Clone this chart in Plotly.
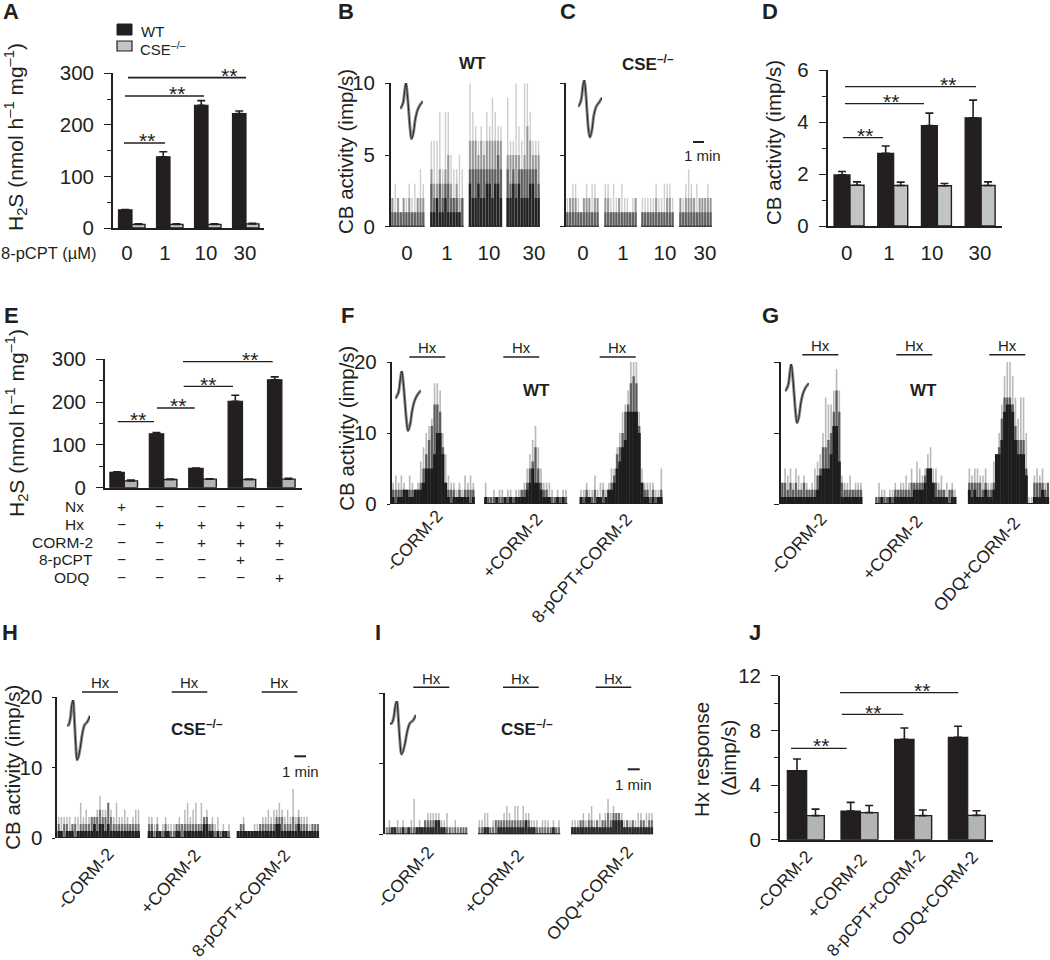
import plotly.graph_objects as go

W = 1050
H = 960
INK = "#231f20"
GREY = "#c2c4c6"
GREY_DARK = "#b2b4b6"
FONT = "Liberation Sans"

# Bar panels
A_WT = [35, 138, 238, 222]
A_WT_TOP = [36, 148, 247, 227]
A_CSE = [7, 7, 7, 8]
A_CSE_TOP = [8, 8, 8, 9]
DOSES = ["0", "1", "10", "30"]

D_WT = [1.97, 2.8, 3.87, 4.17]
D_WT_TOP = [2.1, 3.08, 4.35, 4.85]
D_CSE = [1.57, 1.56, 1.55, 1.56]
D_CSE_TOP = [1.7, 1.69, 1.64, 1.7]

E_WT = [36, 126, 45, 202, 252]
E_WT_TOP = [37, 129, 46, 216, 259]
E_CSE = [16, 19, 20, 19, 20]
E_CSE_TOP = [18, 20, 21, 20, 22]
E_NX = ["+", "−", "−", "−", "−"]
E_HX = ["−", "+", "+", "+", "+"]
E_CORM = ["−", "−", "+", "+", "+"]
E_PCPT = ["−", "−", "−", "+", "−"]
E_ODQ = ["−", "−", "−", "−", "+"]

J_WT = [5.05, 2.1, 7.34, 7.49]
J_WT_TOP = [5.9, 2.73, 8.17, 8.3]
J_CSE = [1.76, 1.98, 1.76, 1.78]
J_CSE_TOP = [2.24, 2.5, 2.17, 2.12]

# Rate histograms, one list per recording segment
B_PEAK = [[2, 3, 2, 1, 2, 2, 3, 2, 3, 2, 4, 3], [6, 6, 6, 8, 4, 8, 8, 5, 4, 4, 5, 4],
          [10, 8, 7, 6, 7, 6, 8, 7, 9, 8, 7, 7], [9, 6, 6, 10, 7, 6, 10, 10, 8, 6, 6, 6]]
B_MID = [[2, 1, 2, 1, 2, 1, 2, 1, 1, 2, 2, 2], [4, 3, 3, 4, 3, 4, 5, 3, 2, 3, 2, 2],
         [6, 6, 6, 5, 6, 5, 6, 6, 6, 6, 6, 6], [5, 5, 5, 5, 5, 4, 5, 7, 6, 5, 5, 5]]
B_CORE = [[1, 1, 1, 1, 1, 1, 1, 1, 1, 1, 1, 1], [3, 2, 2, 3, 2, 3, 3, 2, 2, 2, 1, 2],
          [4, 4, 4, 4, 4, 4, 4, 4, 4, 4, 5, 4], [4, 3, 4, 3, 4, 4, 4, 4, 4, 4, 4, 3]]
B_DEEP = [[], [1, 1, 2, 1, 1, 2, 1, 1, 1, 1, 1, 0],
          [3, 2, 2, 3, 2, 2, 3, 3, 2, 3, 3, 2], [2, 2, 3, 2, 3, 2, 2, 2, 3, 3, 2, 2]]

C_PEAK = [[2, 2, 3, 3, 2, 1, 2, 3, 2, 3, 3, 2], [3, 3, 2, 3, 2, 2, 3, 2, 2, 1, 2, 2],
          [2, 2, 2, 2, 2, 3, 2, 2, 3, 3, 3, 2], [2, 2, 3, 4, 3, 2, 3, 2, 2, 2, 3, 2]]
C_MID = [[1, 2, 2, 2, 1, 1, 2, 2, 2, 1, 2, 2], [2, 2, 1, 1, 1, 2, 1, 1, 1, 1, 1, 2],
         [1, 1, 1, 1, 1, 2, 1, 1, 1, 2, 2, 1], [2, 1, 2, 2, 2, 2, 1, 2, 2, 2, 2, 2]]
C_CORE = [[1, 1, 1, 1, 1, 1, 1, 1, 1, 1, 1, 1], [1, 1, 1, 1, 1, 1, 1, 1, 1, 1, 1, 1],
          [1, 1, 1, 1, 1, 1, 1, 1, 1, 1, 1, 1], [1, 1, 1, 1, 1, 1, 1, 1, 1, 1, 1, 1]]

F_PEAK = [[3, 4, 3, 4, 3, 2, 4, 3, 2, 3, 6, 8, 10, 11, 12, 17, 17, 16, 10, 7, 4, 3, 3, 2, 3, 2, 4, 3, 4, 3],
          [3, 1, 1, 2, 1, 2, 2, 1, 2, 2, 1, 2, 2, 2, 3, 5, 7, 9, 11, 8, 5, 3, 3, 3, 2, 1, 2, 1, 2, 2],
          [2, 2, 3, 2, 2, 4, 2, 3, 3, 2, 3, 5, 5, 8, 10, 13, 14, 16, 20, 20, 20, 13, 5, 3, 3, 3, 3, 2, 2, 5]]
F_MID = [[2, 2, 2, 2, 2, 2, 2, 2, 2, 2, 3, 5, 7, 9, 11, 14, 14, 13, 8, 3, 2, 2, 2, 1, 2, 1, 2, 2, 2, 2],
         [1, 1, 1, 1, 1, 1, 1, 1, 1, 1, 1, 1, 1, 2, 2, 3, 5, 6, 8, 5, 3, 2, 2, 1, 1, 1, 1, 1, 1, 1],
         [1, 1, 2, 1, 1, 2, 1, 1, 2, 1, 2, 3, 4, 7, 8, 10, 13, 14, 17, 18, 17, 11, 3, 2, 2, 1, 2, 1, 1, 2]]
F_DEEP = [[1, 0, 1, 1, 2, 2, 1, 1, 2, 2, 2, 3, 5, 5, 5, 7, 10, 10, 7, 3, 1, 0, 1, 1, 1, 1, 1, 1, 0, 1],
          [1, 0, 0, 0, 1, 0, 0, 1, 0, 1, 0, 1, 1, 1, 1, 2, 3, 5, 3, 3, 2, 1, 1, 1, 0, 0, 1, 0, 1, 0],
          [1, 0, 1, 1, 0, 0, 1, 1, 0, 1, 2, 2, 3, 5, 6, 8, 9, 13, 13, 13, 13, 10, 3, 1, 1, 0, 1, 0, 1, 1]]

G_PEAK = [[3, 5, 4, 5, 3, 5, 4, 3, 4, 3, 2, 3, 5, 6, 7, 10, 15, 14, 14, 16, 19, 16, 4, 3, 3, 4, 2, 3, 3, 3],
          [1, 3, 2, 2, 1, 2, 2, 3, 2, 3, 3, 4, 3, 5, 3, 6, 5, 4, 5, 7, 8, 5, 5, 3, 4, 2, 3, 2, 3, 2],
          [5, 4, 5, 5, 4, 4, 5, 3, 3, 6, 7, 10, 14, 18, 20, 20, 18, 15, 12, 15, 15, 10, 1, 1, 4, 5, 4, 5, 3, 3]]
G_MID = [[3, 3, 2, 3, 2, 3, 2, 2, 3, 2, 2, 2, 2, 4, 5, 8, 8, 9, 10, 13, 16, 13, 3, 2, 2, 2, 2, 2, 2, 2],
         [1, 1, 1, 1, 1, 1, 1, 2, 2, 2, 2, 2, 2, 3, 3, 3, 3, 3, 4, 5, 5, 3, 3, 2, 2, 2, 1, 2, 2, 1],
         [3, 3, 3, 3, 3, 2, 3, 2, 2, 3, 7, 8, 12, 15, 15, 15, 14, 11, 9, 9, 9, 5, 0, 0, 3, 3, 3, 3, 2, 3]]
G_DEEP = [[1, 1, 1, 1, 1, 1, 1, 1, 1, 1, 1, 1, 1, 2, 4, 5, 5, 5, 7, 11, 11, 6, 1, 1, 1, 1, 1, 1, 1, 1],
          [0, 0, 1, 0, 0, 1, 0, 1, 1, 1, 1, 1, 1, 1, 2, 2, 2, 2, 3, 5, 5, 3, 1, 1, 1, 1, 1, 0, 1, 1],
          [2, 1, 2, 1, 1, 1, 2, 1, 1, 2, 7, 7, 9, 13, 14, 14, 13, 9, 7, 7, 7, 4, 0, 0, 1, 1, 1, 2, 1, 1]]

H_PEAK = [[3, 3, 3, 3, 3, 2, 3, 3, 5, 3, 4, 3, 3, 3, 4, 6, 4, 4, 5, 4, 3, 5, 3, 3, 4, 3, 2, 3, 4, 4],
          [3, 3, 2, 3, 1, 2, 3, 2, 2, 2, 2, 3, 2, 4, 5, 3, 4, 5, 2, 5, 3, 4, 2, 3, 2, 3, 1, 2, 1, 2],
          [1, 2, 3, 1, 1, 1, 2, 2, 2, 3, 3, 4, 3, 4, 4, 5, 4, 3, 4, 3, 7, 3, 4, 3, 3, 3, 2, 2, 2, 2]]
H_MID = [[2, 1, 2, 2, 1, 2, 2, 1, 2, 2, 2, 2, 3, 3, 3, 4, 3, 3, 5, 3, 2, 2, 2, 2, 2, 2, 2, 2, 2, 2],
         [2, 2, 1, 2, 1, 1, 2, 1, 1, 1, 2, 2, 2, 2, 2, 2, 2, 2, 2, 2, 3, 3, 2, 2, 1, 1, 1, 1, 1, 1],
         [1, 2, 2, 1, 1, 1, 1, 1, 2, 2, 2, 2, 2, 2, 3, 3, 3, 2, 2, 2, 3, 2, 3, 2, 2, 2, 1, 2, 2, 2]]
H_DEEP = [[1, 1, 0, 1, 1, 1, 0, 1, 1, 1, 1, 1, 1, 2, 1, 2, 2, 1, 2, 1, 1, 1, 1, 1, 1, 1, 1, 1, 1, 1],
          [1, 1, 0, 1, 1, 0, 1, 1, 0, 0, 1, 1, 0, 1, 1, 1, 1, 1, 1, 1, 2, 2, 1, 1, 0, 1, 0, 1, 1, 0],
          [1, 1, 1, 1, 1, 1, 1, 1, 1, 1, 1, 1, 1, 1, 2, 2, 1, 1, 1, 1, 1, 1, 2, 1, 1, 1, 1, 1, 1, 1]]

I_PEAK = [[0, 2, 0, 1, 2, 1, 2, 0, 1, 2, 5, 1, 2, 1, 2, 3, 3, 3, 3, 3, 2, 2, 3, 1, 0, 2, 0, 1, 1, 1],
          [2, 2, 3, 3, 1, 2, 2, 2, 2, 3, 4, 3, 2, 4, 4, 2, 4, 3, 3, 2, 2, 2, 1, 2, 2, 2, 1, 2, 1, 2],
          [2, 2, 2, 2, 3, 2, 3, 4, 2, 2, 3, 2, 3, 5, 3, 4, 3, 3, 3, 2, 2, 2, 2, 2, 3, 3, 2, 3, 3, 3]]
I_MID = [[1, 1, 1, 1, 1, 1, 1, 1, 1, 1, 1, 1, 1, 1, 2, 2, 2, 2, 2, 2, 1, 1, 1, 1, 1, 1, 1, 1, 1, 1],
         [1, 1, 1, 1, 1, 1, 2, 2, 2, 2, 2, 2, 2, 2, 2, 2, 2, 2, 2, 1, 1, 1, 1, 1, 1, 1, 1, 1, 1, 1],
         [1, 1, 1, 2, 2, 1, 2, 2, 1, 2, 1, 2, 2, 3, 2, 3, 3, 3, 2, 1, 2, 1, 2, 1, 1, 2, 2, 1, 2, 2]]
I_DEEP = [[0, 0, 1, 1, 0, 0, 1, 0, 1, 0, 0, 1, 1, 1, 1, 1, 1, 1, 2, 2, 1, 1, 0, 0, 0, 0, 0, 0, 0, 0],
          [0, 0, 1, 1, 0, 0, 0, 1, 1, 1, 1, 1, 1, 1, 1, 1, 1, 2, 1, 1, 1, 0, 0, 0, 0, 0, 0, 1, 0, 0],
          [1, 1, 1, 1, 1, 1, 1, 1, 1, 1, 1, 1, 1, 1, 1, 2, 2, 2, 2, 1, 1, 1, 1, 1, 1, 1, 1, 1, 1, 1]]

# Spike waveform insets
WAVE_T = [0, .06, .14, .2, .26, .32, .38, .44, .5, .58, .66, .76, .88, 1]
WAVE_WT = [.55, .58, .66, .85, 1, .8, .5, .2, .02, .12, .35, .52, .62, .68]
WAVE_CSE = [.55, .58, .68, .88, 1, .8, .45, .15, .03, .15, .4, .55, .62, .7]
WAVE_H = [.6, .6, .7, .9, 1, .7, .3, .05, .1, .25, .45, .6, .65, .75]

fig = go.Figure()
layout = {}
annotations = []
shapes = []
axis_count = 0


def new_axes(left, right, top, bottom, xrange, yrange, xopts=None, yopts=None):
    global axis_count
    axis_count += 1
    tag = "" if axis_count == 1 else str(axis_count)
    xaxis = dict(domain=[left / W, right / W], range=xrange, anchor="y" + tag, automargin=False,
                 showgrid=False, zeroline=False, showticklabels=False, ticks="")
    yaxis = dict(domain=[1 - bottom / H, 1 - top / H], range=yrange, anchor="x" + tag, automargin=False,
                 showgrid=False, zeroline=False, showticklabels=False, ticks="")
    xaxis.update(xopts or {})
    yaxis.update(yopts or {})
    layout["xaxis" + tag] = xaxis
    layout["yaxis" + tag] = yaxis
    return "x" + tag, "y" + tag


def y_style(major, minor=None, ticklen=7, labels=True, width=1.8):
    opts = dict(showline=True, linecolor=INK, linewidth=width, ticks="outside", ticklen=ticklen,
                tickwidth=1.4, tickcolor=INK, dtick=major, tick0=0, showticklabels=labels,
                tickfont=dict(family=FONT, size=20.5, color=INK), ticklabelstandoff=6)
    if minor:
        opts["minor"] = dict(dtick=minor, tick0=0, ticks="outside", ticklen=4, tickwidth=1.4, tickcolor=INK)
    return opts


def text(x, y, s, size=15, anchor="center", angle=0):
    annotations.append(dict(xref="paper", yref="paper", x=x / W, y=1 - y / H, text=s, showarrow=False,
                            xanchor=anchor, yanchor="middle", textangle=angle,
                            font=dict(family=FONT, size=size, color=INK)))


def hline(x0, x1, y, width=1.3):
    shapes.append(dict(type="line", xref="paper", yref="paper", x0=x0 / W, x1=x1 / W,
                       y0=1 - y / H, y1=1 - y / H, line=dict(color=INK, width=width)))


def sig(x0, x1, y, star_x, star_y, width=1.3):
    hline(x0, x1, y, width)
    text(star_x, star_y + 4, "**", size=21)


def bar_panel(left, right, top, bottom, ymax, center, step, w_wt, w_cse, wt, wt_top, cse, cse_top,
              major, minor, tick_px=None, tick_labels=None, tick_gap=6, cse_color=GREY):
    xopts = dict(showline=True, linecolor=INK, linewidth=1.8)
    if tick_px:
        xopts.update(tickmode="array", tickvals=[(p - center) / step for p in tick_px], ticktext=tick_labels,
                     showticklabels=True, tickfont=dict(family=FONT, size=20.5, color=INK),
                     ticklabelstandoff=tick_gap)
    xa, ya = new_axes(left, right, top, bottom, [(left - center) / step, (right - center) / step], [0, ymax],
                      xopts, y_style(major, minor))
    positions = list(range(len(wt)))
    fig.add_trace(go.Bar(x=positions, y=wt, xaxis=xa, yaxis=ya, offset=-w_wt / step, width=w_wt / step,
                         marker=dict(color=INK, line=dict(color=INK, width=1.2)), showlegend=False,
                         error_y=dict(type="data", symmetric=False, array=[t - v for t, v in zip(wt_top, wt)],
                                      arrayminus=[0] * len(wt), color=INK, thickness=1.6, width=4)))
    fig.add_trace(go.Bar(x=positions, y=cse, xaxis=xa, yaxis=ya, offset=0, width=w_cse / step,
                         marker=dict(color=cse_color, line=dict(color=INK, width=1.4)), showlegend=False,
                         error_y=dict(type="data", symmetric=False, array=[t - v for t, v in zip(cse_top, cse)],
                                      arrayminus=[0] * len(cse), color=INK, thickness=1.6, width=4)))


def hist_panel(left, right, top, bottom, ymax, major, seg_left, layers, ticklen=4, labels=True,
               tick_px=None, tick_labels=None):
    # x axis counts bins, each segment starts at its own offset
    n_bins = len(layers[0][0][0])
    binw = (right - seg_left[-1]) / n_bins
    xopts = {}
    if tick_px:
        xopts = dict(tickmode="array", tickvals=[(p - left) / binw for p in tick_px], ticktext=tick_labels,
                     showticklabels=True, tickfont=dict(family=FONT, size=20.5, color=INK),
                     ticklabelstandoff=12)
    xa, ya = new_axes(left, right, top, bottom, [0, (right - left) / binw], [0, ymax], xopts,
                      y_style(major, ticklen=ticklen, labels=labels))
    starts = [(p - left) / binw for p in seg_left]
    for series, alpha, bar_width in layers:
        xs, ys = [], []
        for start, values in zip(starts, series):
            xs += [start + i + 0.5 for i in range(len(values))]
            ys += values
        fig.add_trace(go.Bar(x=xs, y=ys, xaxis=xa, yaxis=ya, width=bar_width, showlegend=False,
                             marker=dict(color=f"rgba(30,28,28,{alpha})", line=dict(width=0))))
    for start in starts:
        fig.add_trace(go.Scatter(x=[start, start + n_bins], y=[0, 0], xaxis=xa, yaxis=ya, mode="lines",
                                 line=dict(color=INK, width=2), showlegend=False, cliponaxis=False))


def inset(left, right, top, bottom, values):
    xa, ya = new_axes(left, right, top, bottom, [0, 1], [0, 1], dict(visible=False), dict(visible=False))
    fig.add_trace(go.Scatter(x=WAVE_T, y=values, xaxis=xa, yaxis=ya, mode="lines", showlegend=False,
                             line=dict(color="rgba(90,90,90,0.7)", width=3, shape="spline")))
    fig.add_trace(go.Scatter(x=WAVE_T, y=values, xaxis=xa, yaxis=ya, mode="lines", showlegend=False,
                             line=dict(color=INK, width=1, shape="spline")))


# A
bar_panel(113, 264, 73.3, 228, 300, 132, 38, 13.5, 13, A_WT, A_WT_TOP, A_CSE, A_CSE_TOP, 100, 50,
          [127, 165, 206, 245], DOSES, tick_gap=5)
text(98, 253, "8-pCPT (µM)", size=16.5, anchor="right")
text(15, 137, "H<sub>2</sub>S (nmol h<sup>–1</sup> mg<sup>–1</sup>)", size=21, angle=-90)
shapes.append(dict(type="rect", xref="paper", yref="paper", x0=117 / W, x1=132 / W, y0=1 - 35 / H, y1=1 - 24 / H,
                   fillcolor=INK, line=dict(color=INK, width=1)))
shapes.append(dict(type="rect", xref="paper", yref="paper", x0=117 / W, x1=132 / W, y0=1 - 51 / H, y1=1 - 41 / H,
                   fillcolor=GREY, line=dict(color=INK, width=1.2)))
text(139, 31, "WT", size=15, anchor="left")
text(138, 48, "CSE<sup>–/–</sup>", size=15, anchor="left")
sig(124, 165, 143, 147, 137)
sig(125, 204, 96, 177, 90)
sig(128, 246, 77.7, 229, 71, width=1.8)

# B, C
hist_panel(391, 540, 83.3, 226.7, 10, 5, [391, 430, 468.6, 506.3],
           [(B_PEAK, 0.22, 0.5), (B_MID, 0.32, 0.8), (B_CORE, 0.45, 0.9), (B_DEEP, 0.9, 0.85)],
           tick_px=[407, 447, 489, 534], tick_labels=DOSES)
hist_panel(566, 712, 83.3, 226.7, 10, 5, [566, 604, 641, 679],
           [(C_PEAK, 0.22, 0.5), (C_MID, 0.32, 0.8), (C_CORE, 0.45, 0.9)], labels=False,
           tick_px=[583, 623, 665, 705], tick_labels=DOSES)
inset(400, 423, 83, 140, WAVE_WT)
inset(578, 602, 80, 139, WAVE_CSE)
text(345, 152, "CB activity (imp/s)", size=20.5, angle=-90)
text(472, 63, "<b>WT</b>", size=17)
text(648, 63, "<b>CSE<sup>–/–</sup></b>", size=17)
hline(693, 704, 142, width=2)
text(702, 155, "1 min", size=15)

# D
bar_panel(827.7, 1002, 70.3, 226, 6, 850, 43.7, 16, 14, D_WT, D_WT_TOP, D_CSE, D_CSE_TOP, 2, 1,
          [846.7, 889, 932, 980], DOSES, tick_gap=7)
text(774, 143, "CB activity (imp/s)", size=20.5, angle=-90)
sig(843, 883, 137.7, 865, 131)
sig(845, 924, 103.7, 891, 97)
sig(845, 976, 86.7, 948, 80)

# E
bar_panel(105, 301.7, 359.3, 487.7, 300, 124.3, 39.4, 14.4, 13.2, E_WT, E_WT_TOP, E_CSE, E_CSE_TOP, 100, 50,
          cse_color=GREY_DARK)
text(16, 423, "H<sub>2</sub>S (nmol h<sup>–1</sup> mg<sup>–1</sup>)", size=21, angle=-90)
E_ROW_NAMES = ["Nx", "Hx", "CORM-2", "8-pCPT", "ODQ"]
E_ROWS = [E_NX, E_HX, E_CORM, E_PCPT, E_ODQ]
E_ROW_Y = [507, 524, 542, 559.5, 577]
E_ROW_END = [86, 86, 95, 95, 90.7]
E_COL_X = [121.7, 159.3, 201.7, 240.3, 279.3]
for name, row, row_y, row_end in zip(E_ROW_NAMES, E_ROWS, E_ROW_Y, E_ROW_END):
    text(row_end, row_y, name, size=15.5, anchor="right")
    for col_x, mark in zip(E_COL_X, row):
        text(col_x, row_y, mark, size=15.5)
sig(117.7, 154, 421.7, 138, 415)
sig(157, 194.7, 408, 178, 402)
sig(183.7, 233, 386.3, 208, 380)
sig(183, 272.7, 361.7, 250, 355)

# F, G
hist_panel(391.7, 662.7, 362, 504, 20, 10, [391.7, 484.3, 579.7],
           [(F_PEAK, 0.3, 0.6), (F_MID, 0.6, 0.9), (F_DEEP, 1, 1.1)], ticklen=3)
hist_panel(781, 1049.3, 362, 504, 20, 10, [781, 875, 968],
           [(G_PEAK, 0.3, 0.6), (G_MID, 0.6, 0.9), (G_DEEP, 1, 1.1)], ticklen=5, labels=False)
inset(395, 421, 371, 432, WAVE_WT)
inset(785, 809, 364, 424, WAVE_WT)
text(345.7, 428, "CB activity (imp/s)", size=20.5, angle=-90)
for hx0, hx1 in [(409.3, 445.3), (503.3, 539.3), (599.7, 635.7)]:
    hline(hx0, hx1, 357, width=1.5)
    text((hx0 + hx1) / 2, 347, "Hx", size=15)
for hx0, hx1 in [(802.3, 838.3), (896.3, 932.3), (989.3, 1025.3)]:
    hline(hx0, hx1, 354.7, width=1.5)
    text((hx0 + hx1) / 2, 346, "Hx", size=15)
text(536, 390.7, "<b>WT</b>", size=17)
text(923, 390.7, "<b>WT</b>", size=17)
text(414, 541, "-CORM-2", size=17.5, angle=-48)
text(512, 546, "+CORM-2", size=17.5, angle=-48)
text(582, 568, "8-pCPT+CORM-2", size=17.5, angle=-48)
text(798, 544, "-CORM-2", size=17.5, angle=-48)
text(892, 548, "+CORM-2", size=17.5, angle=-48)
text(976.7, 564, "ODQ+CORM-2", size=17.5, angle=-48)

# H, I
hist_panel(57.3, 319.3, 697.3, 838, 20, 10, [57.3, 147.7, 236.7],
           [(H_PEAK, 0.3, 0.55), (H_MID, 0.5, 0.8), (H_DEEP, 0.95, 1)], ticklen=3)
hist_panel(385.3, 653.3, 693, 834.3, 20, 10, [385.3, 478, 571],
           [(I_PEAK, 0.3, 0.55), (I_MID, 0.5, 0.8), (I_DEEP, 0.85, 1)], ticklen=4, labels=False)
inset(67, 90, 700, 763, WAVE_H)
inset(390, 416, 701, 757, WAVE_H)
text(11.7, 767, "CB activity (imp/s)", size=20.5, angle=-90)
for hx0, hx1 in [(82, 118), (171.7, 207.3), (261.7, 297.3)]:
    hline(hx0, hx1, 692, width=1.5)
    text((hx0 + hx1) / 2, 682.3, "Hx", size=15)
for hx0, hx1 in [(413.3, 449.3), (503, 538.7), (595.7, 631.3)]:
    hline(hx0, hx1, 687.3, width=1.5)
    text((hx0 + hx1) / 2, 678, "Hx", size=15)
text(196.7, 728, "<b>CSE<sup>–/–</sup></b>", size=17)
text(526.7, 727.7, "<b>CSE<sup>–/–</sup></b>", size=17)
hline(294.3, 306, 756.3, width=2)
text(300, 771, "1 min", size=15)
hline(627.7, 639.7, 769.3, width=2)
text(633.3, 784, "1 min", size=15)
text(85, 879, "-CORM-2", size=17.5, angle=-48)
text(170, 882, "+CORM-2", size=17.5, angle=-48)
text(240.7, 902.5, "8-pCPT+CORM-2", size=17.2, angle=-48)
text(405.3, 877, "-CORM-2", size=17.5, angle=-48)
text(493.3, 881.7, "+CORM-2", size=17.5, angle=-48)
text(589.7, 893, "ODQ+CORM-2", size=17.5, angle=-48)

# J
bar_panel(780, 993.3, 675.7, 839.7, 12, 806.7, 53.67, 19.4, 17.6, J_WT, J_WT_TOP, J_CSE, J_CSE_TOP, 4, 2,
          cse_color=GREY_DARK)
text(701, 760, "Hx response", size=20.5, angle=-90)
text(728, 758, "(Δimp/s)", size=20.5, angle=-90)
text(783.7, 880.7, "-CORM-2", size=17.5, angle=-48)
text(836.7, 885.7, "+CORM-2", size=17.5, angle=-48)
text(875, 902.5, "8-pCPT+CORM-2", size=17.2, angle=-48)
text(935, 898, "ODQ+CORM-2", size=17.5, angle=-48)
sig(791, 846.7, 748.3, 821, 741.7)
sig(841.7, 903.3, 714.3, 873.3, 708)
sig(840, 958.3, 692.7, 922.3, 686)

# Panel letters
PANEL_LETTERS = ["A", "B", "C", "D", "E", "F", "G", "H", "I", "J"]
LETTER_X = [11, 346, 568, 770, 11, 347, 770, 10, 378, 755]
LETTER_Y = [12, 12, 12, 12, 316, 316, 316, 632, 632, 632]
for letter, lx, ly in zip(PANEL_LETTERS, LETTER_X, LETTER_Y):
    text(lx, ly, f"<b>{letter}</b>", size=22)

fig.update_layout(width=W, height=H, margin=dict(l=0, r=0, t=0, b=0), barmode="overlay",
                  plot_bgcolor="white", paper_bgcolor="white", showlegend=False,
                  annotations=annotations, shapes=shapes, **layout)
fig.write_html("out.html", config={"displayModeBar": False}, post_script="document.body.style.margin = '0';")
